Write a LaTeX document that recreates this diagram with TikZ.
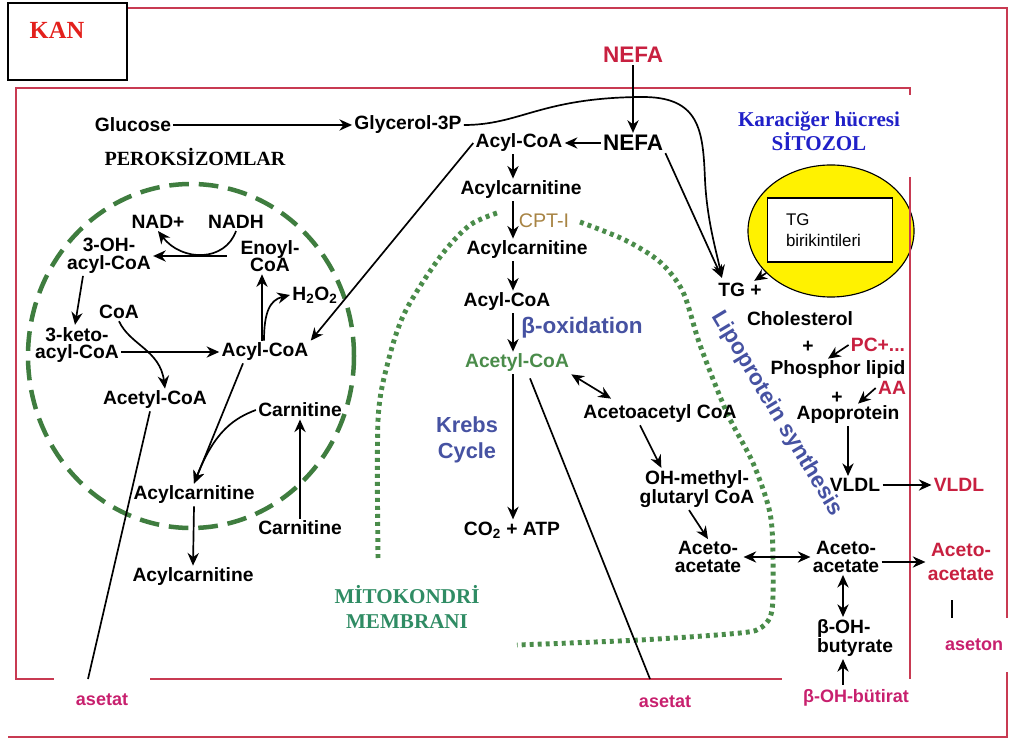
\documentclass[tikz,border=0pt]{standalone}
\usepackage{fontspec}
\setmainfont{Liberation Serif}
\setsansfont{Liberation Sans}
\usetikzlibrary{arrows.meta,shapes.geometric,positioning,calc}

\definecolor{kanred}{HTML}{E3201C}
\definecolor{framered}{HTML}{C83A52}
\definecolor{vred}{HTML}{C82040}
\definecolor{pinkred}{HTML}{C8206E}
\definecolor{pergreen}{HTML}{3F7D3F}
\definecolor{mitgreen}{HTML}{4A8C4A}
\definecolor{memgreen}{HTML}{2F8C64}
\definecolor{slateblue}{HTML}{4652A2}
\definecolor{cytblue}{HTML}{2020C8}
\definecolor{cptbrown}{HTML}{A88444}

\tikzset{
  lbl/.style={font=\sffamily\bfseries\fontsize{13.7}{12.5}\selectfont, inner sep=1.5pt, align=center},
  bigl/.style={lbl, font=\sffamily\bfseries\fontsize{16}{18}\selectfont},
  bluel/.style={lbl, font=\sffamily\bfseries\fontsize{15.5}{18.5}\selectfont, text=slateblue},
  redl/.style={lbl, text=vred},
  outl/.style={font=\sffamily\bfseries\fontsize{12.8}{14}\selectfont, text=pinkred, fill=white},
  serifl/.style={align=center, inner sep=1.5pt},
  arr/.style={-{Stealth[length=9pt,width=8pt]}, line width=1.2pt},
  darr/.style={{Stealth[length=9pt,width=8pt]}-{Stealth[length=9pt,width=8pt]}, line width=1.2pt},
  frame/.style={draw=framered, line width=1.5pt},
  perox/.style={draw=pergreen, line width=3.2pt, dash pattern=on 14pt off 7pt},
  mito/.style={draw=mitgreen, line width=3.5pt, dash pattern=on 2.8pt off 2.9pt}
}

\begin{document}
\begin{tikzpicture}[x=0.025cm, y=-0.025cm]
  \path[use as bounding box, fill=white] (0,0) rectangle (1011,740);

  % lipid pool
  \node (pool) [ellipse, draw, line width=0.8pt, fill=yellow, minimum width=4.15cm, minimum height=3.3cm] at (831,231) {};
  \node (tgbox) [draw, line width=0.8pt, fill=white, minimum width=3.125cm, minimum height=1.6cm, text width=2.2cm, align=left, font=\sffamily\fontsize{12}{15}\selectfont] at (830,230) {TG\\birikintileri};

  % frames
  \draw[frame, line width=1.2pt] (127,8) -- (1007,8) -- (1007,737) -- (8,737);
  \draw[frame] (910,95) -- (910,88) -- (16,88) -- (16,679) -- (782,679);
  \draw[frame] (910,177) -- (910,679);
  \node (kanbox) [draw, line width=0.8pt, fill=white, minimum width=2.975cm, minimum height=1.925cm] at (67.5,41.5) {};
  \node (kan) [serifl, font=\rmfamily\bfseries\fontsize{17.5}{20}\selectfont, text=kanred] at (57,30) {KAN};

  % membranes
  \draw[perox] (191,356) ellipse [x radius=163, y radius=172];
  \draw[mito] plot[smooth] coordinates {(378,558) (378,420) (388,362) (405,312) (440,257) (470,225) (500,212)};
  \draw[mito] plot[smooth] coordinates {(580,222) (625,240) (660,262) (683,292) (700,345) (727,413) (753,463) (770,513) (773,560) (772,610) (762,627) (740,633) (640,640) (517,645)};

  % region labels
  \node (perok) [serifl, font=\rmfamily\bfseries\fontsize{14.3}{17}\selectfont] at (195,157) {PEROKSİZOMLAR};
  \node (kara) [serifl, text=cytblue, font=\rmfamily\bfseries\fontsize{15}{15.6}\selectfont] at (819,131) {Karaciğer hücresi\\SİTOZOL};
  \node (mem) [serifl, text=memgreen, font=\rmfamily\bfseries\fontsize{15}{17.8}\selectfont] at (407,607) {MİTOKONDRİ\\MEMBRANI};

  % cytosol and mitochondrion
  \node (gluc) [lbl] at (133,125) {Glucose};
  \node (glyc) [lbl] at (408,125) {Glycerol-3P};
  \node (nefa0) [bigl, text=vred] at (633,55) {NEFA};
  \node (nefa) [bigl] at (633,143) {NEFA};
  \node (acyl1) [lbl] at (519,143) {Acyl-CoA};
  \node (acarn1) [lbl] at (521,190) {Acylcarnitine};
  \node (cpt) [lbl, text=cptbrown, font=\sffamily\fontsize{14}{15}\selectfont] at (544,221) {CPT-I};
  \node (acarn2) [lbl] at (527,250) {Acylcarnitine};
  \node (acyl2) [lbl] at (507,302) {Acyl-CoA};
  \node (beta) [bluel, font=\sffamily\bfseries\fontsize{16}{18}\selectfont] at (582,328) {β-oxidation};
  \node (acet) [lbl, text=mitgreen] at (517,363) {Acetyl-CoA};
  \node (krebs) [bluel] at (467,440) {Krebs\\Cycle};
  \node (co2) [lbl] at (512,530) {CO\textsubscript{2} + ATP};
  \node (acac) [lbl] at (660,414) {Acetoacetyl CoA};
  \node (ohmg) [lbl] at (697,489) {OH-methyl-\\glutaryl CoA};
  \node (aal) [lbl] at (708,557) {Aceto-\\acetate};
  \node (aar) [lbl] at (846,557) {Aceto-\\acetate};
  \node (aared) [redl, font=\sffamily\bfseries\fontsize{13.7}{17}\selectfont] at (961,562) {Aceto-\\acetate};
  \node (bohb) [lbl, align=left, font=\sffamily\bfseries\fontsize{13.7}{11}\selectfont] at (855,638) {β-OH-\\butyrate};

  % lipoprotein side
  \node (tg) [lbl] at (740,290) {TG +};
  \node (chol) [lbl] at (800,319) {Cholesterol};
  \node (plus1) [lbl] at (808,347) {+};
  \node (pc) [redl] at (878,345) {PC+...};
  \node (phos) [lbl] at (838,370) {Phosphor lipid};
  \node (aa) [redl] at (892,388) {AA};
  \node (plus2) [lbl] at (837,398) {+};
  \node (apo) [lbl] at (848,415) {Apoprotein};
  \node (vldl) [lbl] at (855,485) {VLDL};
  \node (vldlred) [redl] at (959,485) {VLDL};
  \node (lipo) [bluel, font=\sffamily\bfseries\fontsize{16}{18}\selectfont, rotate=-59] at (777,414) {Lipoprotein synthesis};

  % peroxisome
  \node (nad) [lbl] at (158,222) {NAD+};
  \node (nadh) [lbl] at (236,222) {NADH};
  \node (ohacyl) [lbl] at (109,256) {3-OH-\\acyl-CoA};
  \node (enoyl) [lbl] at (270,256) {Enoyl-\\CoA};
  \node (h2o2) [lbl] at (315,295) {H\textsubscript{2}O\textsubscript{2}};
  \node (coa) [lbl] at (119,312) {CoA};
  \node (keto) [lbl] at (77,345) {3-keto-\\acyl-CoA};
  \node (acylp) [lbl] at (265,352) {Acyl-CoA};
  \node (acetp) [lbl] at (155,400) {Acetyl-CoA};
  \node (carn1) [lbl] at (300,410) {Carnitine};
  \node (acarnp) [lbl] at (194,495) {Acylcarnitine};
  \node (carn2) [lbl] at (300,528) {Carnitine};
  \node (acarn3) [lbl] at (193,577) {Acylcarnitine};

  % outputs
  \node (as1lbl) [outl, minimum width=2.375cm, minimum height=1.15cm] at (102,700) {asetat};
  \node (as2lbl) [outl, fill=none] at (665,702) {asetat};
  \node (butir) [outl, fill=none] at (856,698) {β-OH-bütirat};
  \node (aseton) [outl, minimum width=1.85cm, minimum height=1.33cm] at (974,645) {aseton};

  \coordinate (col) at (513,0);
  \coordinate (pcol) at (262,0);
  \coordinate (bcol) at (843,0);
  \coordinate (as1) at (88,679);
  \coordinate (as2) at (650,679);
  \coordinate (astick) at (952,600);

  % arrows
  \draw[arr] (gluc) -- (glyc);
  \draw[arr] (nefa0) -- (nefa);
  \draw[arr] (nefa) -- (acyl1);
  \draw[arr] (col |- acyl1.south) -- (col |- acarn1.north);
  \draw[arr] (col |- acarn1.south) -- (col |- acarn2.north);
  \draw[arr] (col |- acarn2.south) -- (col |- acyl2.north);
  \draw[arr] (col |- acyl2.south) -- (col |- acet.north);
  \draw[arr] (col |- acet.south) -- (col |- co2.north);
  \draw[line width=1.2pt] ($(acet.south)+(13,4)$) -- (as2);
  \draw[darr] (acet.south east) -- ($(acac.north west)+(30,-4)$);
  \draw[arr] ($(acac.south)+(-20,0)$) -- ($(ohmg.north west)+(24,0)$);
  \draw[arr] ($(ohmg.south)+(-8,0)$) -- (aal.north);
  \draw[darr] (aal.east) -- (aar.west);
  \draw[arr] (aar.east |- aared.west) -- (aared.west);
  \draw[line width=1.5pt] (astick) -- (astick |- aseton.north);
  \draw[darr] (bcol |- aar.south) -- (bcol |- bohb.north);
  \draw[arr] (bcol |- butir.north) -- (bcol |- bohb.south);
  \draw[arr] (nefa.south east) -- ([shift={(6,-3)}]tg.north west);
  \draw[arr] (glyc.east) .. controls (520,125) and (540,98) .. (640,97)
    .. controls (700,96) and (703,130) .. (705,180)
    .. controls (707,220) and (716,250) .. ([shift={(6,-3)}]tg.north west);
  \draw[arr] (pool) -- (tg);
  \draw[arr] (pc.west) -- ($(phos.north)+(-10,0)$);
  \draw[arr] (aa.west) -- ($(apo.north)+(10,0)$);
  \draw[arr] (apo.south) -- (apo.south |- vldl.north);
  \draw[arr] (vldl) -- (vldlred);
  \draw[arr] (acyl1.west) -- (acylp.north east);
  \draw[arr] ([xshift=-8pt]enoyl.west) -- (ohacyl.east);
  \draw[arr] (nadh.south) .. controls (225,262) and (182,262) .. (nad.south);
  \draw[arr] ($(ohacyl.south)+(-26,0)$) -- ($(keto.north)+(-2,0)$);
  \draw[arr] (keto.east |- acylp.west) -- (acylp.west);
  \draw[arr] (coa.south) .. controls (130,345) and (160,350) .. ($(acetp.north)+(10,0)$);
  \draw[line width=1.2pt] ($(acetp.south)+(-5,0)$) -- (as1);
  \draw[arr] (pcol |- acylp.north) -- (pcol |- enoyl.south);
  \draw[arr] ($(acylp.north)+(-1,0)$) .. controls (264,312) and (270,300) .. (h2o2.west);
  \draw[arr] ($(acylp.south)+(-22,0)$) -- (acarnp.north);
  \draw[arr] (carn1.west) .. controls (235,418) and (215,430) .. (acarnp.north);
  \draw[arr] (carn2.north) -- (carn1.south);
  \draw[arr] (acarnp.south) -- (acarn3.north);
\end{tikzpicture}
\end{document}
